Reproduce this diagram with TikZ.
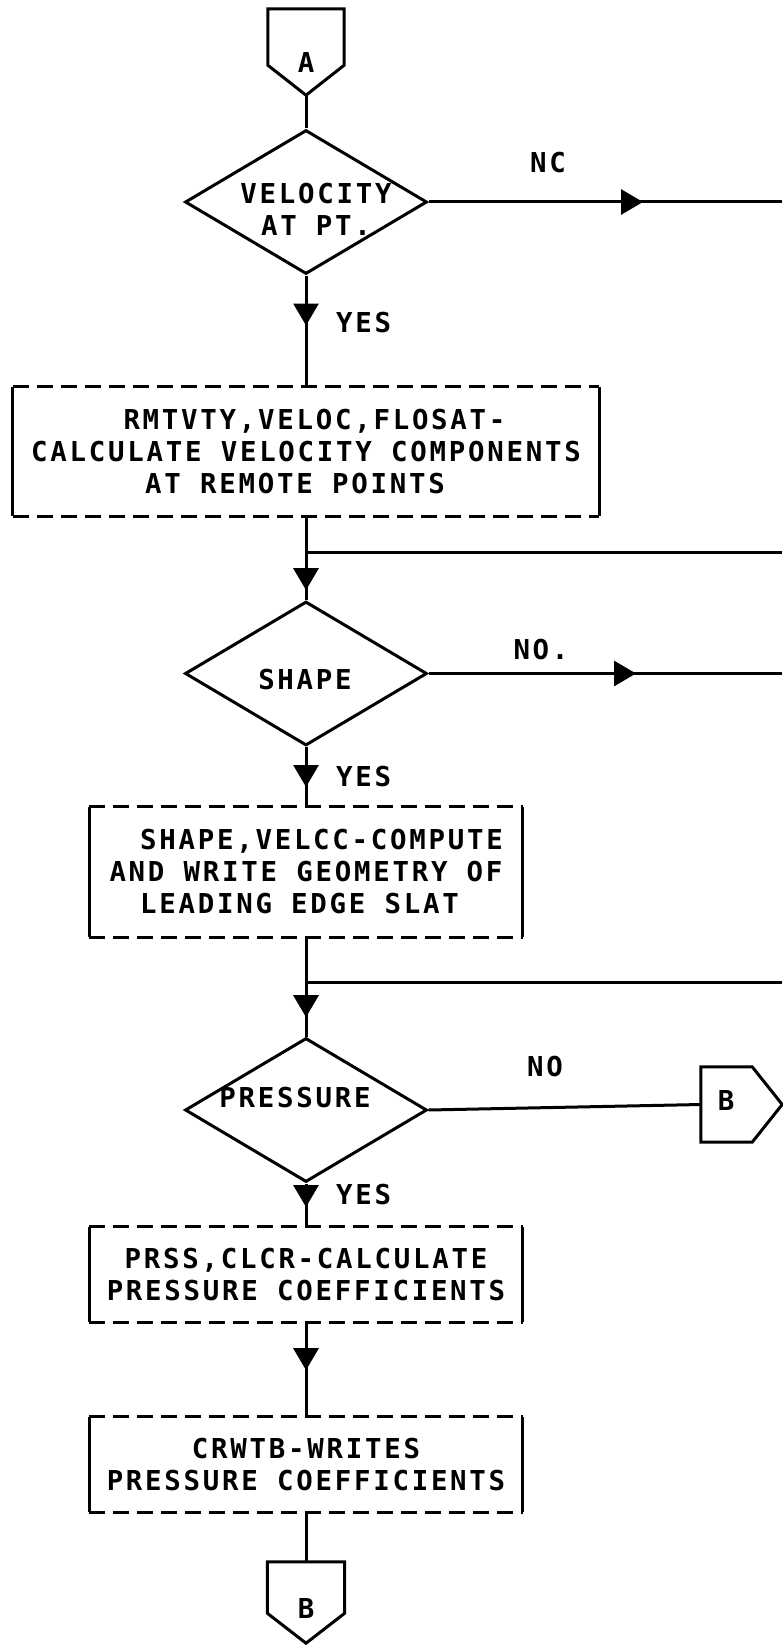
\documentclass[tikz,border=0pt]{standalone}
\usepackage{fontspec}
\usetikzlibrary{shapes.geometric,arrows.meta,decorations.markings,calc}
\newfontfamily\plotfont{DejaVu Sans Mono}[LetterSpace=10]

% outline of an off-page connector pointing down
\newcommand\connectordown[1]{%
  \draw[wire] (#1.north west) -- (#1.north east) -- ([yshift=30pt]#1.south east)
    -- (#1.south) -- ([yshift=30pt]#1.south west) -- cycle;}
% outline of an off-page connector pointing right
\newcommand\connectorright[1]{%
  \draw[wire] (#1.south west) -- (#1.north west) -- ([xshift=-30pt]#1.north east)
    -- (#1.east) -- ([xshift=-30pt]#1.south east) -- cycle;}
% process box: solid sides, dashed top and bottom
\newcommand\procframe[1]{%
  \draw[wire] (#1.north west) -- (#1.south west) (#1.north east) -- (#1.south east);
  \draw[wire, dash pattern=on 16pt off 8pt] (#1.north west) -- (#1.north east)
    (#1.south west) -- (#1.south east);}

\begin{document}
\begin{tikzpicture}[x=1pt,y=-1pt,
  every node/.style={font=\plotfont\bfseries\fontsize{27.4pt}{32pt}\selectfont, inner sep=0pt},
  wire/.style={line width=3pt, line join=miter},
  decision/.style={diamond, draw, line width=3pt, minimum width=242pt, minimum height=144pt},
  procbox/.style={rectangle, align=center, minimum width=433pt, minimum height=95pt},
  conn/.style={rectangle, minimum width=76pt, minimum height=86pt},
  flowarrow/.style={postaction={decorate, decoration={markings,
      mark=at position #1 with {\arrow{Triangle[length=22pt,width=25pt]}}}}},
  tag/.style={anchor=center},
  yes/.style={anchor=west}]

\fill[white] (0,0) rectangle (782,1645);
\useasboundingbox (0,0) rectangle (782,1645);

% entry connector
\node[conn] (ca) at (306,52) {};
\connectordown{ca}
\node (ca-l) at (306,63) {A};

% decisions
\node[decision] (d1) at (306,202) {};
\node[decision] (d2) at (306,673.5) {};
\node[decision] (d3) at (306,1110) {};
\node[align=center] (d1-t) at (316,209) {VELOCITY\\AT PT.};
\node (d2-t) at (305,680) {SHAPE};
\node (d3-t) at (295,1098) {PRESSURE};

% process boxes
\node[procbox, minimum width=586pt, minimum height=129pt] (b1) at (306,451.5)
  {\hspace*{17pt}RMTVTY,VELOC,FLOSAT-\\CALCULATE VELOCITY COMPONENTS\\AT REMOTE POINTS\hspace*{22pt}};
\procframe{b1}
\node[procbox, minimum height=130pt] (b2) at (306,872)
  {\hspace*{31pt}SHAPE,VELCC-COMPUTE\\AND WRITE GEOMETRY OF\\LEADING EDGE SLAT\hspace*{13pt}};
\procframe{b2}
\node[procbox] (b3) at (306,1274.5) {PRSS,CLCR-CALCULATE\\PRESSURE COEFFICIENTS};
\procframe{b3}
\node[procbox] (b4) at (306,1464.5) {CRWTB-WRITES\\PRESSURE COEFFICIENTS};
\procframe{b4}

% exit connectors
\node[conn, minimum width=77pt, minimum height=81pt] (cb) at (306,1602.5) {};
\connectordown{cb}
\node (cb-l) at (306,1608) {B};
\node[conn, minimum width=81pt, minimum height=75pt] (cr) at (741.5,1104.5) {};
\connectorright{cr}
\node (cr-l) at (726,1100) {B};

% junctions and off-picture ends
\coordinate (j1) at (306,552);
\coordinate (j1e) at (782,552);
\coordinate (j2) at (306,982);
\coordinate (j2e) at (782,982);
\coordinate (e1) at (782,202);
\coordinate (e2) at (782,673.5);

% main flow
\draw[wire] (ca.south) -- (d1.north);
\draw[wire, flowarrow=50pt] (d1.south) -- (b1.north);
\draw[wire, flowarrow=74pt] (b1.south) -- (d2.north);
\draw[wire] (j1) -- (j1e);
\draw[wire, flowarrow=40pt] (d2.south) -- (b2.north);
\draw[wire, flowarrow=80pt] (b2.south) -- (d3.north);
\draw[wire] (j2) -- (j2e);
\draw[wire, flowarrow=23.5pt] (d3.south) -- (b3.north);
\draw[wire, flowarrow=48pt] (b3.south) -- (b4.north);
\draw[wire] (b4.south) -- (cb.north);

% branches
\draw[wire, flowarrow=214.5pt] (d1.east) -- (e1);
\draw[wire, flowarrow=207.5pt] (d2.east) -- (e2);
\draw[wire] (d3.east) -- (cr.west);

% branch labels
\node[tag] (l-nc) at (548,163) {NC};
\node[tag] (l-no1) at (541,650) {NO.};
\node[tag] (l-no2) at (545,1067) {NO};
\node[yes] (l-y1) at (336,323) {YES};
\node[yes] (l-y2) at (336,777) {YES};
\node[yes] (l-y3) at (336,1195) {YES};
\end{tikzpicture}
\end{document}
